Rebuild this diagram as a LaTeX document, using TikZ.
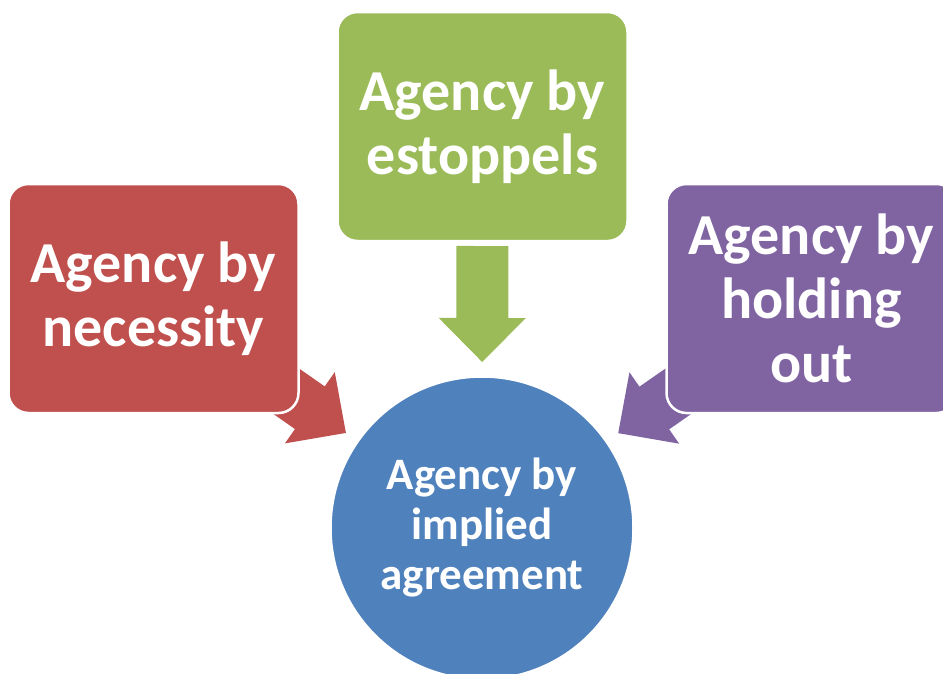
\documentclass[tikz,border=0pt]{standalone}
\usepackage{fontspec}
\setmainfont{Carlito}
\usetikzlibrary{calc,backgrounds}

\definecolor{necred}{HTML}{C0504D}
\definecolor{estgreen}{HTML}{9BBB59}
\definecolor{holdpurple}{HTML}{8064A2}
\definecolor{implblue}{HTML}{4F81BD}

\begin{document}
\begin{tikzpicture}[x=1pt,y=-1pt]
\tikzstyle{kind}=[draw=white, line width=2.5pt, rounded corners=20pt, minimum width=290pt, minimum height=229pt, text=white, align=center, font=\bfseries\fontsize{58}{64}\selectfont]
\tikzstyle{hub}=[circle, draw=white, line width=2.5pt, minimum size=303pt, text=white, align=center, font=\bfseries\fontsize{45}{50}\selectfont]
\useasboundingbox (0,0) rectangle (943,673);
% the three kinds and the centre
\node [kind, fill=necred] (neces) at (153.5,298.5) {Agency by\\necessity};
\node [kind, fill=estgreen] (estop) at (482.5,126.5) {Agency by\\estoppels};
\node [kind, fill=holdpurple] (hold) at (811.5,298.5) {Agency by\\holding\\out};
\node [hub, fill=implblue] (agree) at (482,528) {Agency by\\implied\\agreement};
% block arrows, behind the boxes
\begin{scope}[on background layer]
\foreach \b/\col in {neces/necred, estop/estgreen, hold/holdpurple}
  \fill [fill=\col] let \p1 = ($(agree.center)!210pt!(\b.center)$), \p2 = ($(agree.center)!282pt!(\b.center)$) in
    ($(agree.center)!166pt!(\b.center)$) -- ($(\p1)!43.5pt!90:(agree.center)$) -- ($(\p1)!26pt!90:(agree.center)$)
    -- ($(\p2)!26pt!90:(agree.center)$) -- ($(\p2)!26pt!-90:(agree.center)$)
    -- ($(\p1)!26pt!-90:(agree.center)$) -- ($(\p1)!43.5pt!-90:(agree.center)$) -- cycle;
\end{scope}
\end{tikzpicture}
\end{document}
